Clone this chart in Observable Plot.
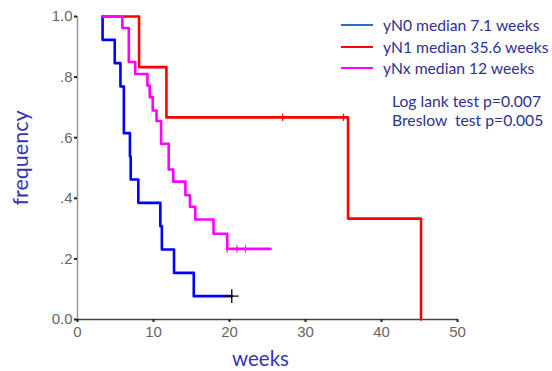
<!DOCTYPE html>
<html>
<head>
<meta charset="utf-8">
<script src="https://cdn.jsdelivr.net/npm/d3@7"></script>
<script src="https://cdn.jsdelivr.net/npm/@observablehq/plot@0.6"></script>
<style>
  html, body { margin: 0; padding: 0; background: #fff; }
  #wrap { position: relative; width: 552px; height: 371px; overflow: hidden; }
  #wrap svg { position: absolute; left: 0; top: 0; overflow: visible; }
  .leg { position: absolute; font-family: Lato, "Open Sans", sans-serif; color: #2e3192; font-size: 15.7px; white-space: pre; }
  .leg .row { position: absolute; left: 0; height: 20px; }
  .leg .sw { position: absolute; left: 0; top: 9px; width: 32px; height: 0; border-top: 2.5px solid; }
  .leg .lab { position: absolute; left: 42px; top: 0; line-height: 20px; }
  .stat { position: absolute; font-family: Lato, "Open Sans", sans-serif; color: #2e3192; font-size: 15.7px; white-space: pre; line-height: 20px; }
</style>
</head>
<body>
<div id="wrap"></div>
<script>
// ---- Data ----
const seriesNames = ["yN0", "yN1", "yNx"];
const seriesColors = ["#0000ff", "#ff0000", "#ff00ff"];
const legendLabels = ["yN0 median 7.1 weeks", "yN1 median 35.6 weeks", "yNx median 12 weeks"];
const legendColors = ["#2a6fc4", "#ff0000", "#ff00ff"];
const statLines = ["Log lank test p=0.007", "Breslow  test p=0.005"];

// step points: time (weeks), survival after that time
const yN0Time = [3.3, 3.3, 4.9, 5.65, 6.1, 6.9, 7.0, 8.0, 10.9, 11.1, 12.7, 15.3, 20.3];
const yN0Surv = [1.0, 0.923, 0.846, 0.769, 0.615, 0.538, 0.462, 0.385, 0.308, 0.231, 0.154, 0.077, 0.077];
const yN1Time = [3.3, 8.1, 11.7, 35.6, 45.2];
const yN1Surv = [1.0, 0.833, 0.667, 0.333, 0.0];
const yNxTime = [3.3, 5.9, 6.75, 7.6, 9.2, 9.5, 9.9, 10.4, 11.0, 12.0, 12.6, 14.2, 14.8, 15.5, 17.9, 19.7, 25.4];
const yNxSurv = [1.0, 0.962, 0.85, 0.81, 0.772, 0.734, 0.69, 0.655, 0.58, 0.495, 0.455, 0.41, 0.372, 0.33, 0.283, 0.233, 0.233];

// censored observations
const yN0CensTime = [20.3];
const yN0CensSurv = [0.077];
const yN1CensTime = [27.0, 35.0];
const yN1CensSurv = [0.667, 0.667];
const yNxCensTime = [19.7, 21.0, 22.1];
const yNxCensSurv = [0.233, 0.233, 0.233];

const xTicks = [0, 10, 20, 30, 40, 50];
const yTicks = [0, 0.2, 0.4, 0.6, 0.8, 1.0];
const yTickLabels = ["0.0", ".2", ".4", ".6", ".8", "1.0"];

// ---- Build tables ----
function rows(name, ts, ss) { return ts.map((t, i) => ({series: name, t, s: ss[i]})); }
const curves = [
  ...rows("yN0", yN0Time, yN0Surv),
  ...rows("yN1", yN1Time, yN1Surv),
  ...rows("yNx", yNxTime, yNxSurv)
];
const cens = [
  ...rows("yN0", yN0CensTime, yN0CensSurv),
  ...rows("yN1", yN1CensTime, yN1CensSurv),
  ...rows("yNx", yNxCensTime, yNxCensSurv)
];
const colorOf = Object.fromEntries(seriesNames.map((n, i) => [n, seriesColors[i]]));
const vtick = { draw(ctx, size) { const r = Math.sqrt(size) / 2; ctx.moveTo(0, -r); ctx.lineTo(0, r); } };

const chart = Plot.plot({
  width: 552,
  height: 371,
  marginLeft: 77,
  marginRight: 95,
  marginTop: 16,
  marginBottom: 52,
  style: { background: "#fff", fontFamily: "'Liberation Sans', Arial, sans-serif", overflow: "visible" },
  x: { domain: [0, 50] },
  y: { domain: [0, 1] },
  marks: [
    Plot.ruleX([0], { stroke: "#999", strokeWidth: 1.5 }),
    Plot.ruleY([0], { stroke: "#444", strokeWidth: 1.5 }),
    Plot.axisY({ ticks: yTicks, tickFormat: (d) => yTickLabels[yTicks.indexOf(d)], tickSize: 3, tickPadding: 2, stroke: "#222", strokeWidth: 2, fill: "#666", fontSize: 15, label: null }),
    Plot.axisX({ ticks: xTicks, tickSize: 3, tickPadding: 4, stroke: "#222", strokeWidth: 2, fill: "#666", fontSize: 15, label: null }),
    Plot.line(curves, { x: "t", y: "s", z: "series", stroke: d => colorOf[d.series], curve: "step-after", strokeWidth: 2.6 }),
    Plot.dot(cens.filter(d => d.series !== "yN0"), { x: "t", y: "s", symbol: vtick, r: 4, stroke: d => colorOf[d.series], strokeWidth: 1.2 }),
    Plot.dot(cens.filter(d => d.series === "yN0"), { x: "t", y: "s", symbol: "plus", r: 4.5, stroke: "#000", strokeWidth: 1.3 }),
    Plot.text(["frequency"], { frameAnchor: "left", textAnchor: "middle", lineAnchor: "middle", rotate: -90, dx: -56, dy: -10, fill: "#3535b0", fontSize: 21.5, fontFamily: "Lato, 'Open Sans', sans-serif" }),
    Plot.text(["weeks"], { frameAnchor: "bottom", textAnchor: "middle", lineAnchor: "middle", dx: -7, dy: 40, fill: "#3535b0", fontSize: 20.5, fontFamily: "Lato, 'Open Sans', sans-serif" })
  ]
});

const wrap = document.getElementById("wrap");
wrap.appendChild(chart);

const leg = document.createElement("div");
leg.className = "leg";
leg.style.left = "341px";
leg.style.top = "15px";
legendLabels.forEach((lab, i) => {
  const row = document.createElement("div");
  row.className = "row";
  row.style.top = (i * 21.5) + "px";
  const sw = document.createElement("span");
  sw.className = "sw";
  sw.style.borderTopColor = legendColors[i];
  const tx = document.createElement("span");
  tx.className = "lab";
  tx.textContent = lab;
  row.appendChild(sw); row.appendChild(tx);
  leg.appendChild(row);
});
wrap.appendChild(leg);

statLines.forEach((s, i) => {
  const d = document.createElement("div");
  d.className = "stat";
  d.style.left = "392px";
  d.style.top = (90.5 + i * 19.5) + "px";
  d.textContent = s;
  wrap.appendChild(d);
});
</script>
</body>
</html>
